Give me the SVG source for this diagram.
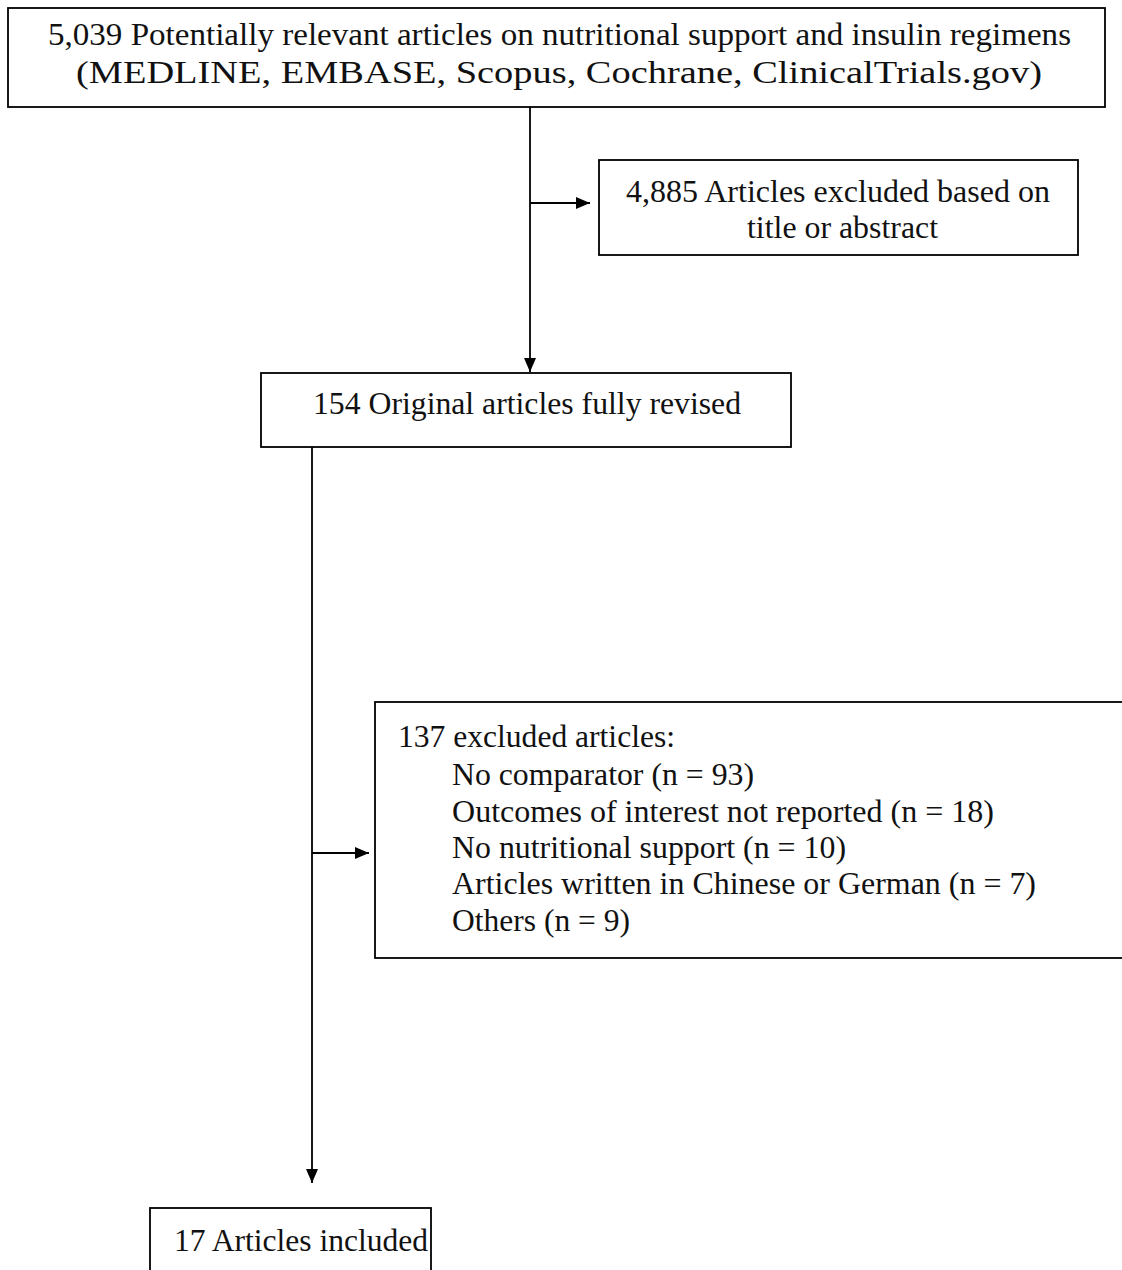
<svg xmlns="http://www.w3.org/2000/svg" width="1122" height="1270" viewBox="0 0 1122 1270">
<style>
.box{fill:#fff;stroke:#000;stroke-width:1.8}
.t{font-family:"Liberation Serif","Times New Roman",serif;font-size:31px;fill:#111}
.b{font-size:32px}
.c{text-anchor:middle}
.ln{stroke:#000;stroke-width:1.8;fill:none}
</style>
<defs>
<marker id="ah" viewBox="0 0 14 12" refX="14" refY="6" markerWidth="14" markerHeight="12" markerUnits="userSpaceOnUse" orient="auto">
<path d="M0,0 L14,6 L0,12 Z" fill="#000"/>
</marker>
</defs>
<rect width="1122" height="1270" fill="#fff"/>
<g id="connectors">
<line class="ln" x1="530" y1="107" x2="530" y2="372" marker-end="url(#ah)"/>
<line class="ln" x1="530" y1="203" x2="590" y2="203" marker-end="url(#ah)"/>
<line class="ln" x1="312" y1="447" x2="312" y2="1183" marker-end="url(#ah)"/>
<line class="ln" x1="312" y1="853" x2="369" y2="853" marker-end="url(#ah)"/>
</g>
<g id="n1">
<rect class="box" x="8" y="8" width="1097" height="99"/>
<text class="t c" x="559.5" y="45" textLength="1023" lengthAdjust="spacingAndGlyphs">5,039 Potentially relevant articles on nutritional support and insulin regimens</text>
<text class="t c" x="559" y="83" textLength="966" lengthAdjust="spacingAndGlyphs">(MEDLINE, EMBASE, Scopus, Cochrane, ClinicalTrials.gov)</text>
</g>
<g id="n2">
<rect class="box" x="599" y="160" width="479" height="95"/>
<text class="t b c" x="838" y="202" textLength="424" lengthAdjust="spacingAndGlyphs">4,885 Articles excluded based on</text>
<text class="t b c" x="842.5" y="238" textLength="191" lengthAdjust="spacingAndGlyphs">title or abstract</text>
</g>
<g id="n3">
<rect class="box" x="261" y="373" width="530" height="74"/>
<text class="t b" x="313" y="414" textLength="428" lengthAdjust="spacingAndGlyphs">154 Original articles fully revised</text>
</g>
<g id="n4">
<rect class="box" x="375" y="702" width="750" height="256"/>
<text class="t" x="398" y="747" textLength="277" lengthAdjust="spacingAndGlyphs">137 excluded articles:</text>
<text class="t" x="452" y="785" textLength="302" lengthAdjust="spacingAndGlyphs">No comparator (n = 93)</text>
<text class="t" x="452" y="822" textLength="542" lengthAdjust="spacingAndGlyphs">Outcomes of interest not reported (n = 18)</text>
<text class="t" x="452" y="858" textLength="394" lengthAdjust="spacingAndGlyphs">No nutritional support (n = 10)</text>
<text class="t" x="452" y="894" textLength="584" lengthAdjust="spacingAndGlyphs">Articles written in Chinese or German (n = 7)</text>
<text class="t" x="452" y="931" textLength="178" lengthAdjust="spacingAndGlyphs">Others (n = 9)</text>
</g>
<g id="n5">
<rect class="box" x="150" y="1208" width="281" height="80"/>
<text class="t b" x="174" y="1251" textLength="254" lengthAdjust="spacingAndGlyphs">17 Articles included</text>
</g>
</svg>
